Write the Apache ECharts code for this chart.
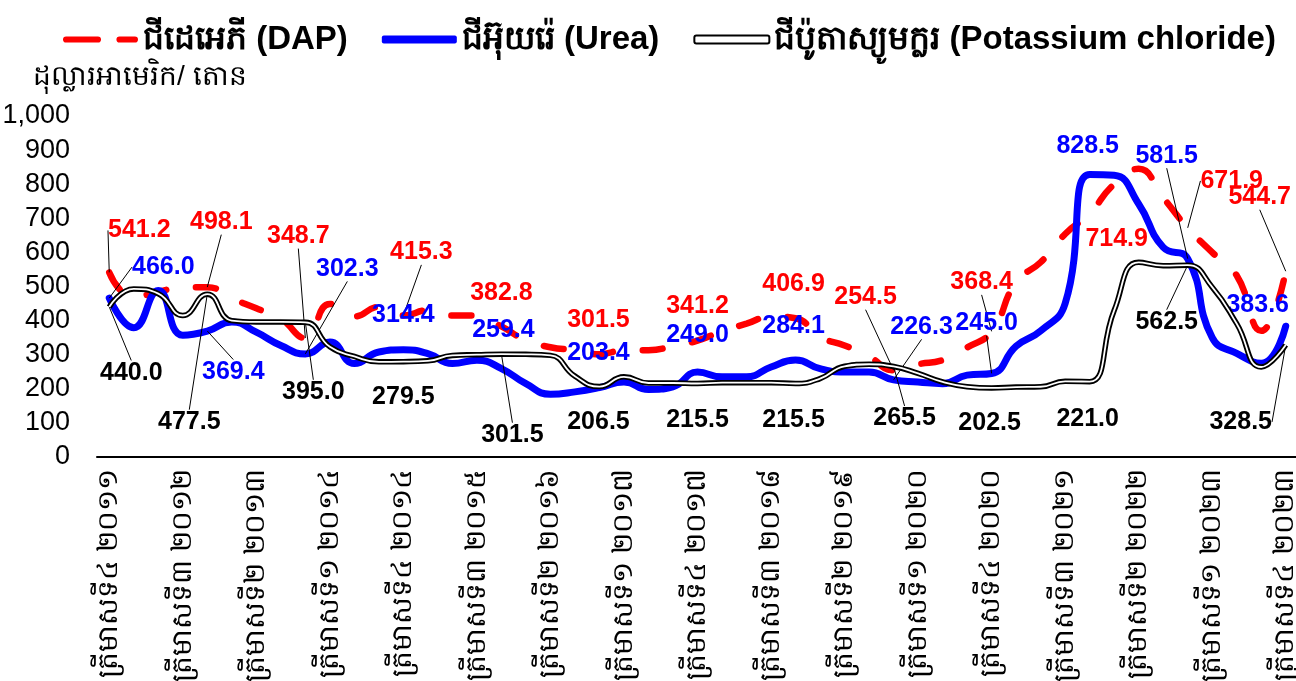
<!DOCTYPE html>
<html>
<head>
<meta charset="utf-8">
<script src="https://cdn.jsdelivr.net/npm/echarts@6/dist/echarts.min.js"></script>
<style>
    html, body {margin:0;padding:0;background:#ffffff;}
    #chart {width:1296px;height:681px;}
</style>
</head>
<body>
<div id="chart"></div>
<script>
    // quarters Q4 2011 .. Q4 2023
    var khmerDigits = ['០','១','២','៣','៤','៥','៦','៧','៨','៩'];
    function toKhmer(n) {
        return String(n).split('').map(function (d) { return khmerDigits[+d]; }).join('');
    }
    var categories = [];
    for (var y = 2011; y <= 2023; y++) {
        for (var q = 1; q <= 4; q++) {
            if (y === 2011 && q < 4) continue;
            categories.push('ត្រីមាសទី' + toKhmer(q) + ' ' + toKhmer(y));
        }
    }

    var seriesNames = ['ជីដេអេភី (DAP)', 'ជីអ៊ុយរ៉េ (Urea)', 'ជីប៉ូតាស្យូមក្លរ (Potassium chloride)'];
    var yAxisTitle = 'ដុល្លារអាមេរិក/ តោន';

    var dap = [541.2, 468, 485, 497, 498.1, 465, 436, 405, 348.7, 449, 412, 440,
        415.3, 430, 415, 415, 382.8, 342, 322, 313, 301.5, 313, 313, 325,
        341.2, 369, 391, 412, 406.9, 352, 327, 295, 254.5, 272, 284, 321,
        368.4, 513, 571, 654, 714.9, 800, 845, 760, 671.9, 600, 532, 370, 544.7];

    var urea = [466.0, 379, 488, 357, 369.4, 396, 366, 327, 302.3, 337, 274, 308,
        314.4, 303, 274, 284, 259.4, 215, 184, 191, 203.4, 220, 198, 206,
        249.0, 235, 235, 264, 284.1, 259, 249, 249, 226.3, 220, 215, 240,
        245.0, 325, 370, 450, 828.5, 826, 742, 615, 581.5, 350, 304, 275, 383.6];

    var potash = [440.0, 493, 479, 415, 477.5, 400, 396, 396, 395.0, 323, 295, 279,
        279.5, 282, 298, 300, 301.5, 301, 298, 237, 206.5, 235, 217, 217,
        215.5, 218, 218, 218, 215.5, 230, 266, 272, 265.5, 245, 220, 206,
        202.5, 205, 206, 222, 221.0, 430, 571, 561, 562.5, 498, 391, 264, 328.5];

    // label shifts (px) for the labelled points, one every 4 quarters
    var dapLabelShift = [[30,-42],[14,-65],[-7,-102],[18,-63],[0,-33],[-1,-34],[0,-35],[-2,-34],[-28,-73],[-10,-49],[27,26],[44,-47],[-26,-74]];
    var ureaLabelShift = [[54,-31],[26,41],[42,-85],[0,-35],[2,-38],[-1,-35],[0,-37],[-2,-34],[28,-53],[-5,-50],[-2,-28],[-21,-103],[-28,-21]];
    var potashLabelShift = [[22,66],[-18,128],[8,70],[0,35],[11,81],[-1,36],[0,37],[-2,37],[11,52],[-2,35],[-2,37],[-21,57],[-45,77]];

    var numFont = '"Liberation Sans Narrow", "Arial Narrow", "Liberation Sans", Arial, sans-serif';

    function buildData(values, shifts) {
        return values.map(function (v, i) {
            var labelled = i % 4 === 0;
            var s = labelled ? shifts[i / 4] : [0, 0];
            return {
                value: v,
                label: {show: labelled},
                labelLine: {show: labelled && Math.sqrt(s[0] * s[0] + s[1] * s[1]) > 45}
            };
        });
    }

    function layoutFor(shifts) {
        return function (p) {
            if (p.dataIndex % 4 !== 0) return {};
            var s = shifts[p.dataIndex / 4];
            return {dx: s[0], dy: s[1]};
        };
    }

    function labelStyle(color) {
        return {
            position: 'inside',
            color: color,
            fontFamily: numFont,
            fontWeight: 'bold',
            fontSize: 25,
            formatter: function (p) { return p.value.toFixed(1); }
        };
    }

    var chart = echarts.init(document.getElementById('chart'));

    var option = {
        backgroundColor: '#ffffff',
        animation: false,
        title: {
            text: yAxisTitle,
            left: 28,
            top: 58,
            textStyle: {fontSize: 28, fontWeight: 'normal', color: '#000', fontFamily: numFont}
        },
        legend: {
            top: 18,
            left: 58,
            itemWidth: 75,
            itemHeight: 8,
            itemGap: 34,
            textStyle: {fontSize: 33, fontWeight: 'bold', color: '#000', fontFamily: numFont},
            data: [
                {name: seriesNames[0], icon: 'path://M3,0h31a3,3 0 0 1 0,6h-31a3,3 0 0 1 0,-6z M55,0h15a3,3 0 0 1 0,6h-15a3,3 0 0 1 0,-6z'},
                {name: seriesNames[1], icon: 'roundRect'},
                {name: seriesNames[2], icon: 'roundRect', itemStyle: {color: '#ffffff', borderColor: '#000000', borderWidth: 2}}
            ]
        },
        grid: {left: 97, right: -2, top: 116, bottom: 224, containLabel: false, outerBoundsMode: 'none'},
        xAxis: {
            type: 'category',
            boundaryGap: true,
            data: categories,
            axisLine: {lineStyle: {color: '#000', width: 2}},
            axisTick: {show: false},
            axisLabel: {
                interval: 2,
                rotate: 90,
                margin: 12,
                fontSize: 28,
                color: '#000',
                fontFamily: numFont
            }
        },
        yAxis: {
            type: 'value',
            min: 0,
            max: 1000,
            interval: 100,
            axisLine: {show: false},
            axisTick: {show: false},
            splitLine: {show: false},
            axisLabel: {
                margin: 27,
                fontSize: 27,
                color: '#000',
                fontFamily: numFont,
                formatter: function (v) { return v.toLocaleString('en-US'); }
            }
        },
        series: [
            {
                name: seriesNames[0],
                type: 'line',
                smooth: 0.5,
                symbol: 'circle',
                symbolSize: 0.1,
                itemStyle: {color: '#ff0000'},
                lineStyle: {color: '#ff0000', width: 6.5, type: [20, 30], cap: 'round'},
                data: buildData(dap, dapLabelShift),
                label: labelStyle('#ff0000'),
                labelLine: {lineStyle: {color: '#000', width: 1}},
                labelLayout: layoutFor(dapLabelShift),
                z: 2
            },
            {
                name: seriesNames[1],
                type: 'line',
                smooth: 0.5,
                symbol: 'circle',
                symbolSize: 0.1,
                itemStyle: {color: '#0000ff'},
                lineStyle: {color: '#0000ff', width: 7, cap: 'round'},
                data: buildData(urea, ureaLabelShift),
                label: labelStyle('#0000ff'),
                labelLine: {lineStyle: {color: '#000', width: 1}},
                labelLayout: layoutFor(ureaLabelShift),
                z: 3
            },
            {
                name: seriesNames[2],
                type: 'line',
                smooth: 0.5,
                symbol: 'circle',
                symbolSize: 0.1,
                itemStyle: {color: '#000000'},
                lineStyle: {color: '#000000', width: 5.5},
                data: buildData(potash, potashLabelShift),
                label: labelStyle('#000000'),
                labelLine: {lineStyle: {color: '#000', width: 1}},
                labelLayout: layoutFor(potashLabelShift),
                z: 4
            },
            {
                // white core of the double line
                name: 'potash-core',
                type: 'line',
                smooth: 0.5,
                symbol: 'none',
                silent: true,
                lineStyle: {color: '#ffffff', width: 1.8},
                data: potash,
                z: 5
            }
        ]
    };

    chart.setOption(option);
</script>
</body>
</html>
